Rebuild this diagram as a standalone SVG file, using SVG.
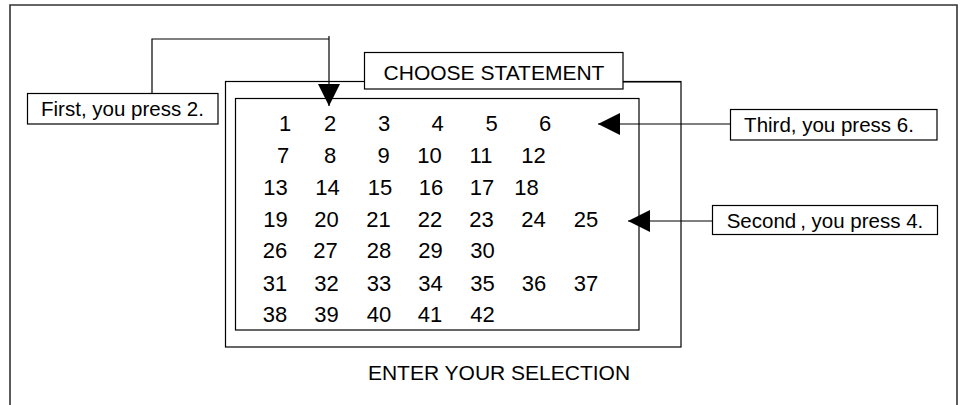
<svg xmlns="http://www.w3.org/2000/svg" width="963" height="405" viewBox="0 0 963 405">
  <style>
    .box { fill: #fff; stroke: #000; stroke-width: 1.2; }
    .frame { fill: none; stroke: #333; stroke-width: 1.6; }
    .lbl { font-family: "Liberation Sans", Arial, sans-serif; font-size: 20.5px; fill: #000; }
    .num { font-family: "Liberation Sans", Arial, sans-serif; font-size: 22px; fill: #000; text-anchor: middle; }
    .mid { text-anchor: middle; }
    .conn { fill: none; stroke: #000; stroke-width: 1.2; }
  </style>
  <defs>
    <marker id="arrow" markerUnits="userSpaceOnUse" markerWidth="24" markerHeight="24" refX="22" refY="11" orient="auto">
      <path d="M0,0 L22,11 L0,22 Z" fill="#000"/>
    </marker>
  </defs>
  <rect width="963" height="405" fill="#fff"/>

  <g id="frame">
    <path class="frame" d="M10,410 V5 H957 V410"/>
  </g>

  <g id="screen">
    <rect class="box" x="225.5" y="81.5" width="455.5" height="265.5"/>
    <rect class="box" x="235.5" y="98.5" width="403.5" height="231.5"/>
  </g>

  <g id="choose-statement">
    <rect class="box" x="364.5" y="52.5" width="258.5" height="36.5"/>
    <text class="lbl mid" x="494" y="80" style="font-size:21px">CHOOSE STATEMENT</text>
  </g>

  <g id="grid">
    <text class="num" y="131"><tspan x="285">1</tspan><tspan x="330">2</tspan><tspan x="384">3</tspan><tspan x="437.5">4</tspan><tspan x="491.5">5</tspan><tspan x="545">6</tspan></text>
    <text class="num" y="163"><tspan x="283">7</tspan><tspan x="330">8</tspan><tspan x="383.5">9</tspan><tspan x="429.5">10</tspan><tspan x="481">11</tspan><tspan x="533.5">12</tspan></text>
    <text class="num" y="195"><tspan x="275.5">13</tspan><tspan x="327.5">14</tspan><tspan x="380">15</tspan><tspan x="431">16</tspan><tspan x="482">17</tspan><tspan x="526.5">18</tspan></text>
    <text class="num" y="227"><tspan x="275.5">19</tspan><tspan x="326.5">20</tspan><tspan x="378.5">21</tspan><tspan x="430">22</tspan><tspan x="481.5">23</tspan><tspan x="533.5">24</tspan><tspan x="586">25</tspan></text>
    <text class="num" y="258"><tspan x="275">26</tspan><tspan x="325.5">27</tspan><tspan x="379">28</tspan><tspan x="430.5">29</tspan><tspan x="482.5">30</tspan></text>
    <text class="num" y="291"><tspan x="275">31</tspan><tspan x="326.5">32</tspan><tspan x="379">33</tspan><tspan x="430.5">34</tspan><tspan x="482.5">35</tspan><tspan x="534">36</tspan><tspan x="586">37</tspan></text>
    <text class="num" y="322"><tspan x="275">38</tspan><tspan x="326.5">39</tspan><tspan x="379">40</tspan><tspan x="430">41</tspan><tspan x="482.5">42</tspan></text>
  </g>

  <g id="label-first">
    <rect class="box" x="27.5" y="93.5" width="190.5" height="30.5"/>
    <text class="lbl mid" x="122.5" y="116">First, you press 2.</text>
  </g>

  <g id="label-third">
    <rect class="box" x="730.5" y="109.5" width="206.5" height="30.5"/>
    <text class="lbl mid" x="829" y="132">Third, you press 6.</text>
  </g>

  <g id="label-second">
    <rect class="box" x="712.5" y="205.5" width="225" height="29"/>
    <text class="lbl mid" x="825" y="228">Second<tspan dx="4">,</tspan> you press 4.</text>
  </g>

  <g id="enter-selection">
    <text class="lbl mid" x="499" y="380" style="font-size:21px">ENTER YOUR SELECTION</text>
  </g>

  <g id="connectors">
    <path class="conn" d="M152,93 V39 H329"/>
    <path class="conn" d="M329,36 V106" marker-end="url(#arrow)"/>
    <path class="conn" d="M730.5,124 H598" marker-end="url(#arrow)"/>
    <path class="conn" d="M712.5,221 H628" marker-end="url(#arrow)"/>
    <path class="conn" d="M623,82 H681"/>
  </g>
</svg>
